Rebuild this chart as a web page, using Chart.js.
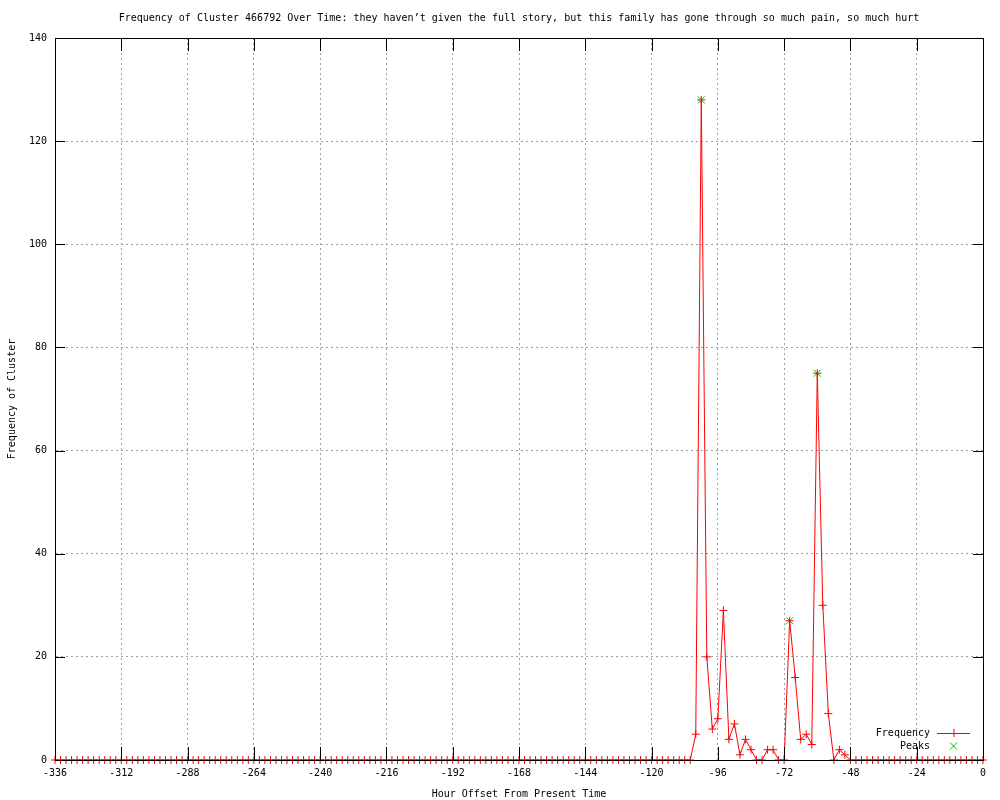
<!DOCTYPE html>
<html>
<head>
<meta charset="utf-8">
<script src="https://cdn.jsdelivr.net/npm/chart.js@4/dist/chart.umd.min.js"></script>
<style>
  html, body { margin: 0; padding: 0; background: #fff; }
  #wrap { width: 1000px; height: 800px; }
</style>
</head>
<body>
<div id="wrap"><canvas id="cluster-chart" width="1000" height="800"></canvas></div>
<script>
// hour offsets, one sample every 2 hours
const hours = [
  -336, -334, -332, -330, -328, -326, -324, -322, -320, -318, -316, -314,
  -312, -310, -308, -306, -304, -302, -300, -298, -296, -294, -292, -290,
  -288, -286, -284, -282, -280, -278, -276, -274, -272, -270, -268, -266,
  -264, -262, -260, -258, -256, -254, -252, -250, -248, -246, -244, -242,
  -240, -238, -236, -234, -232, -230, -228, -226, -224, -222, -220, -218,
  -216, -214, -212, -210, -208, -206, -204, -202, -200, -198, -196, -194,
  -192, -190, -188, -186, -184, -182, -180, -178, -176, -174, -172, -170,
  -168, -166, -164, -162, -160, -158, -156, -154, -152, -150, -148, -146,
  -144, -142, -140, -138, -136, -134, -132, -130, -128, -126, -124, -122,
  -120, -118, -116, -114, -112, -110, -108, -106, -104, -102, -100, -98,
  -96, -94, -92, -90, -88, -86, -84, -82, -80, -78, -76, -74,
  -72, -70, -68, -66, -64, -62, -60, -58, -56, -54, -52, -50,
  -48, -46, -44, -42, -40, -38, -36, -34, -32, -30, -28, -26,
  -24, -22, -20, -18, -16, -14, -12, -10, -8, -6, -4, -2,
  0
];
const frequency = [
  0, 0, 0, 0, 0, 0, 0, 0, 0, 0, 0, 0,
  0, 0, 0, 0, 0, 0, 0, 0, 0, 0, 0, 0,
  0, 0, 0, 0, 0, 0, 0, 0, 0, 0, 0, 0,
  0, 0, 0, 0, 0, 0, 0, 0, 0, 0, 0, 0,
  0, 0, 0, 0, 0, 0, 0, 0, 0, 0, 0, 0,
  0, 0, 0, 0, 0, 0, 0, 0, 0, 0, 0, 0,
  0, 0, 0, 0, 0, 0, 0, 0, 0, 0, 0, 0,
  0, 0, 0, 0, 0, 0, 0, 0, 0, 0, 0, 0,
  0, 0, 0, 0, 0, 0, 0, 0, 0, 0, 0, 0,
  0, 0, 0, 0, 0, 0, 0, 0, 5, 128, 20, 6,
  8, 29, 4, 7, 1, 4, 2, 0, 0, 2, 2, 0,
  0, 27, 16, 4, 5, 3, 75, 30, 9, 0, 2, 1,
  0, 0, 0, 0, 0, 0, 0, 0, 0, 0, 0, 0,
  0, 0, 0, 0, 0, 0, 0, 0, 0, 0, 0, 0,
  0
];
const peakHours = [-102, -70, -60];
const peakValues = [128, 27, 75];

const titleText = "Frequency of Cluster 466792 Over Time: they haven\u2019t given the full story, but this family has gone through so much pain, so much hurt";
const xTitle = "Hour Offset From Present Time";
const yTitle = "Frequency of Cluster";

const mono = "'DejaVu Sans Mono', monospace";

// gnuplot style: title, boxed frame with inward ticks, key in the lower right
const gnuFrame = {
  id: "gnuFrame",
  afterDatasetsDraw(chart) {
    const { ctx, chartArea: a, scales } = chart;
    ctx.save();
    ctx.strokeStyle = "#000";
    ctx.lineWidth = 1;
    ctx.beginPath();
    scales.x.ticks.forEach((t) => {
      const x = Math.round(scales.x.getPixelForValue(t.value)) + 0.5;
      ctx.moveTo(x, a.bottom); ctx.lineTo(x, a.bottom - 13);
      ctx.moveTo(x, a.top); ctx.lineTo(x, a.top + 13);
    });
    scales.y.ticks.forEach((t) => {
      const y = Math.round(scales.y.getPixelForValue(t.value)) + 0.5;
      ctx.moveTo(a.left, y); ctx.lineTo(a.left + 10, y);
      ctx.moveTo(a.right, y); ctx.lineTo(a.right - 10, y);
    });
    ctx.stroke();
    ctx.strokeRect(Math.round(a.left) + 0.5, Math.round(a.top) + 0.5,
      Math.round(a.right - a.left), Math.round(a.bottom - a.top));
    ctx.restore();
  },
  afterDraw(chart) {
    const { ctx, chartArea: a } = chart;
    ctx.save();
    ctx.font = "10px " + mono;
    ctx.fillStyle = "#000";
    ctx.textBaseline = "middle";
    ctx.textAlign = "center";
    ctx.fillText(titleText, (a.left + a.right) / 2, 18);

    // key
    const ds = chart.data.datasets;
    const textRight = a.right - 53;
    const sx0 = a.right - 46, sx1 = a.right - 13, sxm = (sx0 + sx1) / 2;
    ds.forEach((d, i) => {
      const y = a.bottom - 27 + i * 13;
      ctx.textAlign = "right";
      ctx.fillStyle = "#000";
      ctx.fillText(d.label, textRight, y);
      ctx.strokeStyle = d.borderColor;
      ctx.lineWidth = 1;
      ctx.beginPath();
      if (d.showLine !== false) {
        ctx.moveTo(sx0, y + 0.5); ctx.lineTo(sx1, y + 0.5);
        ctx.moveTo(sxm - 4, y + 0.5); ctx.lineTo(sxm + 4, y + 0.5);
        ctx.moveTo(sxm + 0.5, y - 4); ctx.lineTo(sxm + 0.5, y + 4);
      } else {
        ctx.moveTo(sxm - 3.5, y - 3.5); ctx.lineTo(sxm + 3.5, y + 3.5);
        ctx.moveTo(sxm - 3.5, y + 3.5); ctx.lineTo(sxm + 3.5, y - 3.5);
      }
      ctx.stroke();
    });
    ctx.restore();
  },
};

new Chart(document.getElementById("cluster-chart"), {
  type: "line",
  data: {
    datasets: [
      {
        label: "Frequency",
        data: hours.map((h, i) => ({ x: h, y: frequency[i] })),
        borderColor: "#ff0000",
        backgroundColor: "#ff0000",
        borderWidth: 1,
        tension: 0,
        pointStyle: "cross",
        pointRadius: 4,
        pointBorderColor: "#ff0000",
        pointBorderWidth: 1,
        clip: false,
      },
      {
        label: "Peaks",
        data: peakHours.map((h, i) => ({ x: h, y: peakValues[i] })),
        showLine: false,
        borderColor: "#00c000",
        backgroundColor: "#00c000",
        pointStyle: "crossRot",
        pointRadius: 5,
        pointBorderColor: "#00c000",
        pointBorderWidth: 1,
        clip: false,
      },
    ],
  },
  options: {
    responsive: false,
    animation: false,
    devicePixelRatio: 1,
    layout: { padding: { top: 38, right: 17, left: 0, bottom: 0 } },
    plugins: {
      legend: { display: false },
      title: { display: false },
      tooltip: { enabled: false },
    },
    scales: {
      x: {
        type: "linear",
        min: -336,
        max: 0,
        afterFit: (s) => { s.height = 40; },
        ticks: { stepSize: 24, padding: 7, color: "#000", font: { family: mono, size: 10 }, maxRotation: 0 },
        grid: { color: "#a0a0a0", drawTicks: false, tickLength: 0 },
        border: { display: true, color: "#000", width: 1, dash: [2, 3] },
        title: { display: true, text: xTitle, color: "#000", font: { family: mono, size: 10 }, padding: { top: 2, bottom: 0 } },
      },
      y: {
        min: 0,
        max: 140,
        afterFit: (s) => { s.width = 55; },
        ticks: { stepSize: 20, padding: 8, color: "#000", font: { family: mono, size: 10 } },
        grid: { color: "#a0a0a0", drawTicks: false, tickLength: 0 },
        border: { display: true, color: "#000", width: 1, dash: [2, 3] },
        title: { display: true, text: yTitle, color: "#000", font: { family: mono, size: 10 }, padding: { top: 6, bottom: 0 } },
      },
    },
  },
  plugins: [gnuFrame],
});
</script>
</body>
</html>
